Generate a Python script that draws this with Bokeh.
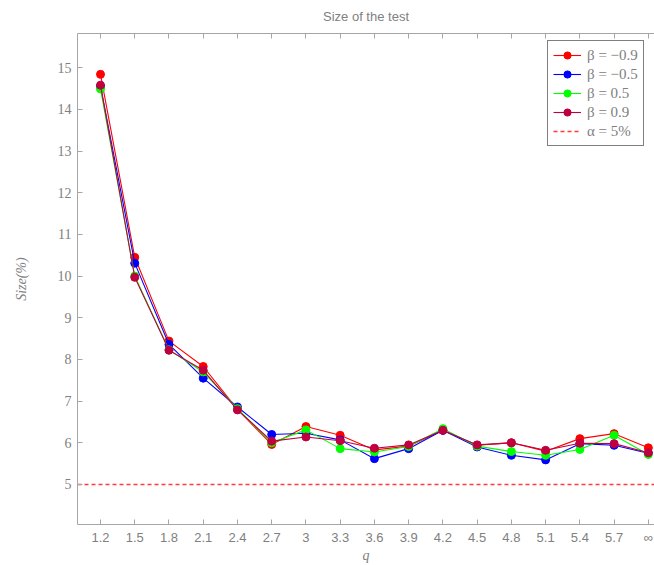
from bokeh.plotting import figure
from bokeh.models import Range1d, FixedTicker, LinearAxis, Legend, LegendItem
from bokeh.embed import file_html
from bokeh.resources import INLINE

q_labels = ["1.2", "1.5", "1.8", "2.1", "2.4", "2.7", "3", "3.3", "3.6",
            "3.9", "4.2", "4.5", "4.8", "5.1", "5.4", "5.7", "\u221e"]

size_beta_m09 = [14.84, 10.45, 8.44, 7.83, 6.80, 5.96, 6.39, 6.18, 5.83,
                 5.92, 6.30, 5.94, 6.00, 5.80, 6.10, 6.22, 5.88]
size_beta_m05 = [14.55, 10.31, 8.36, 7.55, 6.86, 6.20, 6.23, 6.07, 5.62,
                 5.86, 6.30, 5.90, 5.70, 5.59, 5.98, 5.94, 5.75]
size_beta_p05 = [14.49, 10.00, 8.23, 7.70, 6.82, 6.00, 6.31, 5.86, 5.78,
                 5.91, 6.34, 5.92, 5.79, 5.70, 5.84, 6.18, 5.72]
size_beta_p09 = [14.58, 9.97, 8.22, 7.74, 6.79, 6.04, 6.14, 6.05, 5.87,
                 5.95, 6.30, 5.95, 6.00, 5.82, 5.99, 5.98, 5.76]

series_labels = ["\u03b2 = \u22120.9", "\u03b2 = \u22120.5", "\u03b2 = 0.5", "\u03b2 = 0.9"]
series_colors = ["#ff0000", "#0000ff", "#00ff00", "#bf0040"]
alpha_level = 5
alpha_label = "\u03b1 = 5%"
y_ticks = [5, 6, 7, 8, 9, 10, 11, 12, 13, 14, 15]

xpos = list(range(len(q_labels)))
GREY = "#808080"
AXC = "#a6a6a6"

p = figure(width=654, height=565, output_backend="svg", toolbar_location=None,
           x_range=Range1d(-0.672, 16.18), y_range=Range1d(4.04, 15.82),
           min_border_left=77, min_border_right=0, min_border_top=0, min_border_bottom=0)

p.title.text = "Size of the test"
p.title.align = "center"
p.title.vertical_align = "top"
p.title.text_font = "Liberation Sans"
p.title.text_font_size = "13px"
p.title.text_font_style = "normal"
p.title.text_color = GREY
p.title.standoff = 16
p.title.offset = 0

p.grid.visible = False
p.outline_line_color = None
p.background_fill_color = "white"

p.xaxis.ticker = FixedTicker(ticks=xpos)
p.xaxis.major_label_overrides = {i: lab for i, lab in enumerate(q_labels)}
p.yaxis.ticker = FixedTicker(ticks=y_ticks)

for ax in (p.xaxis[0], p.yaxis[0]):
    ax.axis_line_color = AXC
    ax.major_tick_line_color = AXC
    ax.major_tick_in = 5
    ax.major_tick_out = 0
    ax.minor_tick_line_color = None
    ax.major_label_text_color = GREY
    ax.axis_label_text_color = GREY
    ax.axis_label_text_font = "Liberation Serif"
    ax.axis_label_text_font_style = "italic"
    ax.axis_label_text_font_size = "14px"

p.xaxis.major_label_text_font = "Liberation Sans"
p.xaxis.major_label_text_font_size = "13px"
p.xaxis.major_label_standoff = 5
p.xaxis.axis_label = "q"
p.xaxis.axis_label_standoff = 0

p.yaxis.major_label_text_font = "Liberation Serif"
p.yaxis.major_label_text_font_size = "14px"
p.yaxis.major_label_standoff = 6
p.yaxis.axis_label = "Size(%)"
p.yaxis.axis_label_standoff = 26

top = LinearAxis(ticker=FixedTicker(ticks=xpos))
top.axis_line_color = AXC
top.major_tick_line_color = AXC
top.major_tick_in = 5
top.major_tick_out = 0
top.minor_tick_line_color = None
top.major_label_overrides = {i: "" for i in xpos}
top.major_label_text_font_size = "13px"
top.major_label_standoff = 0
p.add_layout(top, "above")

items = []
for vals, lab, col in zip([size_beta_m09, size_beta_m05, size_beta_p05, size_beta_p09],
                          series_labels, series_colors):
    r1 = p.line(xpos, vals, line_color=col, line_width=1.1)
    r2 = p.scatter(xpos, vals, size=8, fill_color=col, line_color=col)
    items.append(LegendItem(label=lab, renderers=[r1, r2]))

rd = p.line(x=[p.x_range.start, p.x_range.end], y=[alpha_level, alpha_level],
            line_color="#ff3b3b", line_dash="4 3", line_width=1.5)
items.append(LegendItem(label=alpha_label, renderers=[rd]))

leg = Legend(items=items, location=(470, 378), margin=0)
leg.border_line_color = "black"
leg.border_line_width = 1
leg.background_fill_color = "white"
leg.background_fill_alpha = 1
leg.label_text_font = "Liberation Serif"
leg.label_text_font_size = "15px"
leg.label_text_color = GREY
leg.glyph_width = 28
leg.glyph_height = 18
leg.label_height = 18
leg.spacing = 1
leg.padding = 5
leg.label_standoff = 6
p.add_layout(leg, "center")

open("out.html", "w").write(file_html(p, INLINE))
